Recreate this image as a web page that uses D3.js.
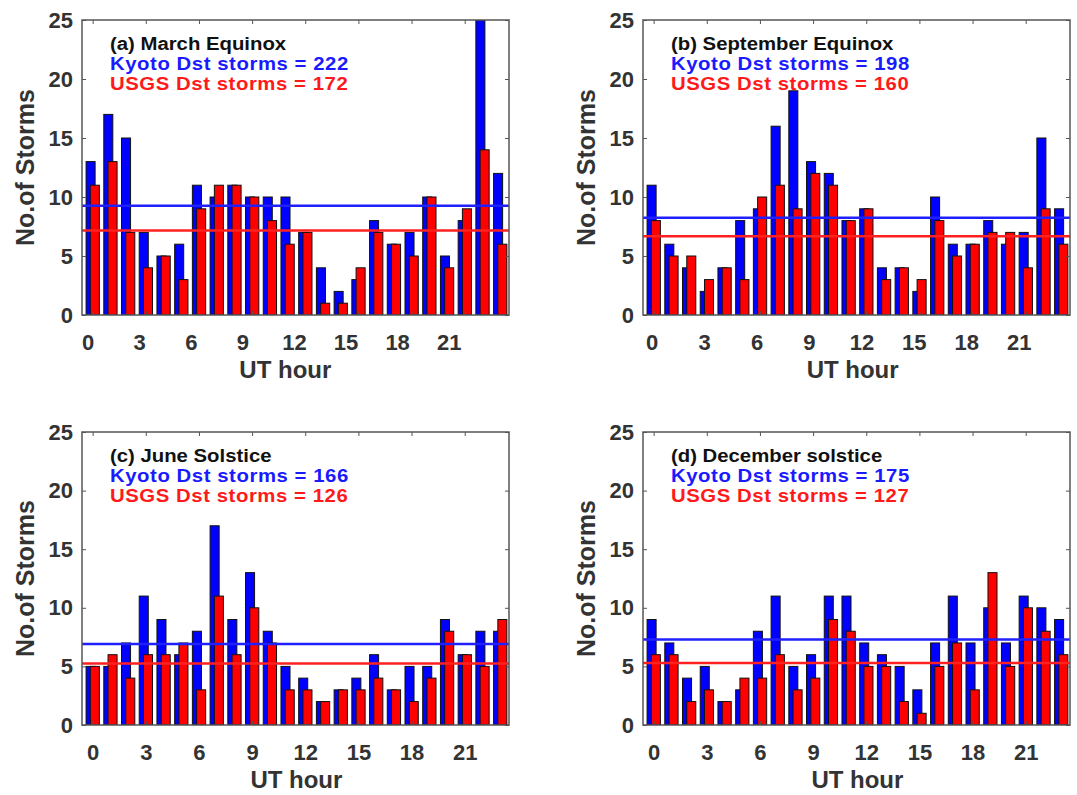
<!DOCTYPE html>
<html>
<head>
<meta charset="utf-8">
<script src="https://cdn.jsdelivr.net/npm/d3@7"></script>
<style>
  body { margin: 0; background: #fff; }
  svg { display: block; font-family: "Liberation Sans", Arial, sans-serif; font-weight: bold; }
</style>
</head>
<body>
<svg id="chart"></svg>
<script>
const width = 1077;
const height = 795;
const svg = d3.select("svg#chart");
svg.attr("width", width).attr("height", height);

// categories and ticks
const hours = [0, 1, 2, 3, 4, 5, 6, 7, 8, 9, 10, 11, 12, 13, 14, 15, 16, 17, 18, 19, 20, 21, 22, 23];
const hourTicks = [0, 3, 6, 9, 12, 15, 18, 21];
const countTicks = [0, 5, 10, 15, 20, 25];
const titles = ["(a) March Equinox", "(b) September Equinox", "(c) June Solstice", "(d) December solstice"];

// storms per UT hour, Kyoto Dst (blue) and USGS Dst (red)
const kyotoMarch = [13, 17, 15, 7, 5, 6, 11, 10, 11, 10, 10, 10, 7, 4, 2, 3, 8, 6, 7, 10, 5, 8, 25, 12];
const usgsMarch  = [11, 13, 7, 4, 5, 3, 9, 11, 11, 10, 8, 6, 7, 1, 1, 4, 7, 6, 5, 10, 4, 9, 14, 6];
const kyotoSept  = [11, 6, 4, 2, 4, 8, 9, 16, 19, 13, 12, 8, 9, 4, 4, 2, 10, 6, 6, 8, 6, 7, 15, 9];
const usgsSept   = [8, 5, 5, 3, 4, 3, 10, 11, 9, 12, 11, 8, 9, 3, 4, 3, 8, 5, 6, 7, 7, 4, 9, 6];
const kyotoJune  = [5, 5, 7, 11, 9, 6, 8, 17, 9, 13, 8, 5, 4, 2, 3, 4, 6, 3, 5, 5, 9, 6, 8, 8];
const usgsJune   = [5, 6, 4, 6, 6, 7, 3, 11, 6, 10, 7, 3, 3, 2, 3, 3, 4, 3, 2, 4, 8, 6, 5, 9];
const kyotoDec   = [9, 7, 4, 5, 2, 3, 8, 11, 5, 6, 11, 11, 7, 6, 5, 3, 7, 11, 7, 10, 7, 11, 10, 9];
const usgsDec    = [6, 6, 2, 3, 2, 4, 4, 6, 3, 4, 9, 8, 5, 5, 2, 1, 5, 7, 3, 13, 5, 10, 8, 6];

const blue = "#0000ff";
const red = "#ff0000";
const axisGrey = "#333";

// panel placement (left/top of the axes box) and the small drift of the printed hour labels
const panels = [
  { title: titles[0], kyoto: kyotoMarch, usgs: usgsMarch, left: 82,  top: 20,  h: 295, lab: [-5, -16] },
  { title: titles[1], kyoto: kyotoSept,  usgs: usgsSept,  left: 643, top: 20,  h: 295, lab: [-2, -7] },
  { title: titles[2], kyoto: kyotoJune,  usgs: usgsJune,  left: 82,  top: 432, h: 293, lab: [0, 0] },
  { title: titles[3], kyoto: kyotoDec,   usgs: usgsDec,   left: 643, top: 432, h: 293, lab: [0, 0] }
];

const pw = 427;
const x = d3.scaleLinear().domain([-0.6, 23.5]).range([0, pw]);
const barW = 0.51;      // bar width in hours
const blueOff = -0.37;  // bar start relative to the hour
const redOff = -0.13;

panels.forEach(function(p) {
  const g = svg.append("g").attr("transform", "translate(" + p.left + "," + p.top + ")");
  const y = d3.scaleLinear().domain([0, 25]).range([p.h, 0]);

  // clip so the 25 bar does not run over the box
  const clipId = "clip-" + p.left + "-" + p.top;
  svg.append("clipPath").attr("id", clipId)
    .append("rect").attr("x", 0).attr("y", 0).attr("width", pw).attr("height", p.h);
  const plot = g.append("g").attr("clip-path", "url(#" + clipId + ")");

  plot.append("g").selectAll("rect")
    .data(hours)
    .join("rect")
      .attr("x", h => x(h + blueOff))
      .attr("width", x(barW) - x(0))
      .attr("y", h => y(p.kyoto[h]))
      .attr("height", h => y(0) - y(p.kyoto[h]))
      .attr("fill", blue)
      .attr("stroke", "#111")
      .attr("stroke-width", 1);

  plot.append("g").selectAll("rect")
    .data(hours)
    .join("rect")
      .attr("x", h => x(h + redOff))
      .attr("width", x(barW) - x(0))
      .attr("y", h => y(p.usgs[h]))
      .attr("height", h => y(0) - y(p.usgs[h]))
      .attr("fill", red)
      .attr("stroke", "#111")
      .attr("stroke-width", 1);

  // mean lines
  const kyotoTotal = d3.sum(p.kyoto);
  const usgsTotal = d3.sum(p.usgs);
  [[kyotoTotal / hours.length, "#2020ff"], [usgsTotal / hours.length, "#ff2020"]].forEach(function(m) {
    plot.append("line")
      .attr("x1", 0).attr("x2", pw)
      .attr("y1", y(m[0])).attr("y2", y(m[0]))
      .attr("stroke", m[1])
      .attr("stroke-width", 2.5);
  });

  // axes: inward ticks on all four sides
  const left = g.append("g")
    .call(d3.axisLeft(y).tickValues(countTicks).tickSize(-4).tickSizeOuter(0).tickPadding(9));
  left.select(".domain").remove();
  left.selectAll("text").style("font-size", "22px").attr("fill", axisGrey).style("font-weight", "bold");

  g.append("g").attr("transform", "translate(" + pw + ",0)")
    .call(d3.axisRight(y).tickValues(countTicks).tickSize(-4).tickSizeOuter(0).tickFormat(""))
    .select(".domain").remove();
  g.append("g")
    .call(d3.axisTop(x).tickValues(hourTicks).tickSize(-4).tickSizeOuter(0).tickFormat(""))
    .select(".domain").remove();
  g.append("g").attr("transform", "translate(0," + p.h + ")")
    .call(d3.axisBottom(x).tickValues(hourTicks).tickSize(-4).tickSizeOuter(0).tickFormat(""))
    .select(".domain").remove();
  g.selectAll(".tick line").attr("stroke", "#555");

  const labelScale = d3.scaleLinear().domain([0, 21]).range([x(0) + p.lab[0], x(21) + p.lab[1]]);
  const bottom = g.append("g").attr("transform", "translate(0," + p.h + ")")
    .call(d3.axisBottom(labelScale).tickValues(hourTicks).tickSize(0).tickPadding(19));
  bottom.select(".domain").remove();
  bottom.selectAll("text").style("font-size", "22px").attr("fill", axisGrey).style("font-weight", "bold");

  g.append("rect")
    .attr("width", pw).attr("height", p.h)
    .attr("fill", "none")
    .attr("stroke", "#555")
    .attr("stroke-width", 1.5);

  // axis titles
  g.append("text")
    .attr("x", labelScale(11.5))
    .attr("y", p.h + 63)
    .attr("text-anchor", "middle")
    .style("font-size", "24px")
    .attr("fill", axisGrey)
    .text("UT hour");

  g.append("text")
    .attr("transform", "translate(-48," + (p.h / 2) + ") rotate(-90)")
    .attr("text-anchor", "middle")
    .style("font-size", "25px")
    .attr("fill", axisGrey)
    .text("No.of Storms");

  // annotation block
  const note = g.append("g").attr("transform", "translate(28,30) scale(1.13,1)");
  note.append("text").attr("y", 0).style("font-size", "18px").attr("fill", "#111").text(p.title);
  note.append("text").attr("y", 20).style("font-size", "18px").style("letter-spacing", "0.5px")
    .attr("fill", "#1a1aff").text("Kyoto Dst storms = " + kyotoTotal);
  note.append("text").attr("y", 40).style("font-size", "18px").style("letter-spacing", "0.5px")
    .attr("fill", "#ff1a1a").text("USGS Dst storms = " + usgsTotal);
});
</script>
</body>
</html>
